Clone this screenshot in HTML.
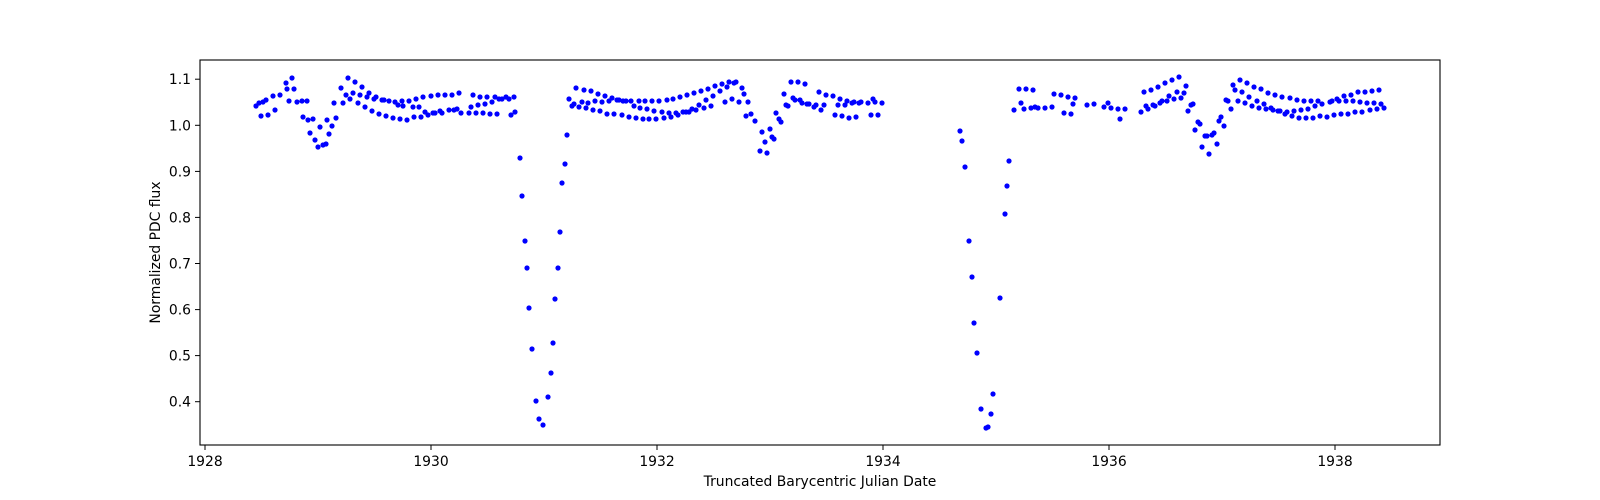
<!DOCTYPE html>
<html><head><meta charset="utf-8"><style>html,body{margin:0;padding:0;background:#fff}svg{display:block}text{font-family:"DejaVu Sans","Liberation Sans",sans-serif;fill:#000}</style></head>
<body>
<svg width="1600" height="500" viewBox="0 0 1600 500" xmlns="http://www.w3.org/2000/svg">
<defs><marker id="m" markerUnits="userSpaceOnUse" markerWidth="8" markerHeight="8" refX="4" refY="4" overflow="visible"><circle cx="4" cy="4" r="2.6" fill="#0000ff"/></marker></defs>
<rect width="1600" height="500" fill="#fff"/>
<path fill="none" stroke="none" marker-start="url(#m)" marker-mid="url(#m)" marker-end="url(#m)" d="M256 106 L259 103 L263 102 L266 100 L261 116 L268 115 L275 110 L273 96 L280 95 L286 83 L292 78 L287 89 L294 89 L289 101 L297 102 L302 101 L307 101 L303 117 L308 120 L313 119 L310 133 L315 140 L318 147 L323 145 L326 144 L320 127 L327 120 L329 134 L332 126 L336 118 L334 103 L341 88 L343 103 L348 78 L346 95 L350 99 L355 82 L353 93 L358 103 L362 87 L360 95 L365 107 L367 97 L369 93 L372 111 L374 99 L376 97 L379 114 L382 100 L384 100 L386 116 L389 101 L393 118 L395 102 L398 105 L400 119 L402 101 L403 106 L407 120 L409 101 L413 107 L414 117 L416 99 L419 107 L421 117 L423 97 L425 112 L428 115 L431 96 L433 113 L435 113 L438 95 L440 111 L442 113 L445 95 L449 110 L452 95 L454 110 L457 109 L459 93 L461 113 L469 113 L471 107 L473 95 L476 113 L478 105 L480 97 L483 113 L485 104 L487 97 L490 114 L492 102 L495 97 L497 114 L499 99 L502 99 L506 97 L509 99 L511 115 L514 97 L515 112 L520 158 L522 196 L525 241 L527 268 L529 308 L532 349 L536 401 L539 419 L543 425 L548 397 L551 373 L553 343 L555 299 L558 268 L560 232 L562 183 L565 164 L567 135 L569 99 L572 106 L574 104 L576 88 L579 107 L582 102 L584 90 L586 108 L588 103 L591 91 L593 110 L595 101 L598 94 L600 111 L602 102 L605 96 L607 114 L609 101 L612 98 L614 114 L617 100 L619 100 L622 115 L623 101 L626 101 L629 117 L631 101 L634 106 L636 118 L639 101 L640 108 L643 119 L645 101 L647 109 L649 119 L652 101 L654 111 L656 119 L659 101 L662 112 L664 118 L667 100 L669 113 L671 117 L673 99 L676 113 L678 115 L680 97 L683 112 L686 112 L687 95 L689 112 L692 109 L694 93 L696 110 L699 105 L701 91 L704 108 L706 100 L708 89 L711 106 L713 96 L715 86 L720 91 L722 84 L725 102 L727 87 L729 82 L732 99 L734 83 L736 82 L739 102 L742 88 L744 94 L746 116 L748 102 L751 114 L755 121 L760 151 L762 132 L765 142 L767 153 L770 129 L772 137 L774 139 L776 113 L779 119 L781 122 L784 94 L786 105 L788 106 L791 82 L793 98 L795 100 L798 82 L800 100 L802 103 L805 84 L807 104 L809 104 L814 107 L816 105 L819 92 L821 110 L824 105 L826 95 L833 96 L835 115 L838 105 L840 99 L842 116 L845 105 L847 101 L849 118 L852 103 L854 102 L856 117 L859 103 L861 102 L868 103 L871 115 L873 99 L875 102 L878 115 L882 103 L960 131 L962 141 L965 167 L969 241 L972 277 L974 323 L977 353 L981 409 L986 428 L988 427 L991 414 L993 394 L1000 298 L1005 214 L1007 186 L1009 161 L1014 110 L1019 89 L1021 103 L1024 109 L1026 89 L1031 108 L1033 90 L1035 107 L1038 108 L1045 108 L1052 107 L1054 94 L1061 95 L1064 113 L1068 97 L1071 114 L1073 104 L1075 98 L1087 105 L1094 104 L1104 107 L1108 103 L1111 108 L1118 109 L1120 119 L1125 109 L1141 112 L1144 92 L1146 106 L1148 109 L1151 90 L1153 105 L1155 106 L1158 87 L1160 103 L1162 101 L1165 83 L1167 101 L1169 96 L1172 80 L1174 99 L1177 92 L1179 77 L1181 98 L1184 93 L1186 86 L1188 111 L1191 105 L1193 104 L1195 130 L1198 122 L1200 124 L1202 147 L1205 136 L1207 136 L1209 154 L1212 135 L1214 133 L1217 144 L1219 121 L1221 117 L1224 126 L1226 100 L1228 101 L1231 109 L1233 85 L1235 90 L1238 101 L1240 80 L1242 92 L1245 103 L1247 83 L1249 97 L1252 106 L1254 87 L1257 101 L1259 108 L1261 89 L1264 104 L1266 109 L1268 93 L1271 108 L1273 110 L1275 95 L1278 111 L1280 111 L1282 97 L1285 114 L1287 112 L1290 98 L1292 116 L1294 111 L1297 100 L1299 118 L1301 110 L1304 101 L1306 118 L1308 109 L1311 101 L1313 118 L1315 106 L1318 101 L1320 116 L1322 104 L1327 117 L1330 102 L1332 101 L1334 115 L1337 99 L1339 101 L1341 114 L1344 96 L1346 101 L1348 114 L1351 95 L1353 101 L1355 112 L1358 92 L1360 102 L1362 112 L1365 92 L1367 103 L1370 110 L1372 91 L1374 103 L1377 109 L1379 90 L1381 104 L1384 108"/>
<rect x="200" y="60" width="1240" height="385" fill="none" stroke="#000" stroke-width="1.1"/>
<g stroke="#000" stroke-width="1">
<line x1="205" y1="445" x2="205" y2="450"/><line x1="431" y1="445" x2="431" y2="450"/><line x1="657" y1="445" x2="657" y2="450"/><line x1="883" y1="445" x2="883" y2="450"/><line x1="1109" y1="445" x2="1109" y2="450"/><line x1="1335" y1="445" x2="1335" y2="450"/>
<line x1="195" y1="79.2" x2="200" y2="79.2"/><line x1="195" y1="125.3" x2="200" y2="125.3"/><line x1="195" y1="171.4" x2="200" y2="171.4"/><line x1="195" y1="217.4" x2="200" y2="217.4"/><line x1="195" y1="263.5" x2="200" y2="263.5"/><line x1="195" y1="309.6" x2="200" y2="309.6"/><line x1="195" y1="355.6" x2="200" y2="355.6"/><line x1="195" y1="401.7" x2="200" y2="401.7"/>
</g>
<g font-size="13.9" text-anchor="middle">
<text x="205" y="466">1928</text><text x="431" y="466">1930</text><text x="657" y="466">1932</text><text x="883" y="466">1934</text><text x="1109" y="466">1936</text><text x="1335" y="466">1938</text>
</g>
<g font-size="13.9" text-anchor="end">
<text x="191" y="84.2">1.1</text><text x="191" y="130.3">1.0</text><text x="191" y="176.4">0.9</text><text x="191" y="222.4">0.8</text><text x="191" y="268.5">0.7</text><text x="191" y="314.6">0.6</text><text x="191" y="360.6">0.5</text><text x="191" y="406.7">0.4</text>
</g>
<text x="820" y="486" font-size="13.9" text-anchor="middle">Truncated Barycentric Julian Date</text>
<text x="0" y="0" font-size="13.9" text-anchor="middle" transform="translate(160 252.5) rotate(-90)">Normalized PDC flux</text>
</svg>
</body></html>
